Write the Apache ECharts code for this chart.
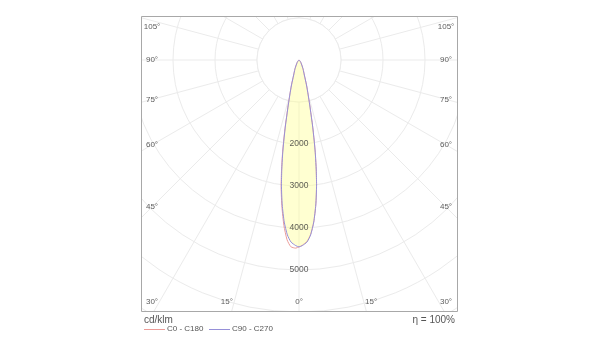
<!DOCTYPE html>
<html>
<head>
<meta charset="utf-8">
<script src="https://cdn.jsdelivr.net/npm/echarts@6/dist/echarts.min.js"></script>
<style>
html, body { margin: 0; padding: 0; background: #fff; }
#chart { width: 600px; height: 360px; }
</style>
</head>
<body>
<div id="chart"></div>
<script>
// gamma angles (deg from nadir) and intensities in cd/klm
var gamma = [0, 1, 2.5, 3.8, 5.2, 6.6, 8, 8.9, 9.8, 10.4, 11, 11.7, 12.4, 13.4, 14.7, 16.7, 19.5, 24, 29, 35, 40, 50, 60, 70, 80, 90];
var c90 = [4450, 4420, 4340, 4175, 3875, 3475, 3005, 2650, 2295, 2057, 1820, 1580, 1340, 1100, 860, 620, 380, 240, 136, 80, 50, 20, 8, 3, 1, 0];
var c270 = c90;
var c0 = [4450, 4410, 4320, 4160, 3870, 3475, 3005, 2650, 2295, 2057, 1820, 1580, 1340, 1100, 860, 620, 380, 240, 136, 80, 50, 20, 8, 3, 1, 0];
var c180 = [4450, 4480, 4450, 4290, 3960, 3530, 3060, 2700, 2340, 2100, 1860, 1610, 1360, 1115, 870, 625, 382, 240, 136, 80, 50, 20, 8, 3, 1, 0];
var radiusLabels = [2000, 3000, 4000, 5000];
var angleLabels = [0, 15, 30, 45, 60, 75, 90, 105];
var seriesNames = ['C0 - C180', 'C90 - C270'];
var seriesColors = ['#ec9c98', '#9690d8'];

var FONT = 'Liberation Sans, Arial, sans-serif';
var center = [299, 60];
var outer = 294;
var rMax = 7000;
var box = { x: 141, y: 16, w: 316, h: 295 };

// left half = first plane (angle g), right half = second plane (angle 360 - g)
function lobe(left, right) {
    var out = [];
    for (var i = gamma.length - 1; i >= 0; i--) {
        out.push([left[i], gamma[i]]);
    }
    for (var j = 0; j < gamma.length; j++) {
        out.push([right[j], 360 - gamma[j]]);
    }
    return out;
}

var graphics = [];
// white centre disc hides the spokes inside the first ring
graphics.push({
    type: 'circle', z: 1, silent: true,
    shape: { cx: center[0], cy: center[1], r: 1000 * outer / rMax },
    style: { fill: '#fff', stroke: '#ebebeb', lineWidth: 1 }
});
// masks outside the frame
graphics.push({ type: 'rect', z: 10, shape: { x: 0, y: 0, width: box.x, height: 360 }, style: { fill: '#fff' } });
graphics.push({ type: 'rect', z: 10, shape: { x: box.x + box.w, y: 0, width: 600, height: 360 }, style: { fill: '#fff' } });
graphics.push({ type: 'rect', z: 10, shape: { x: 0, y: 0, width: 600, height: box.y }, style: { fill: '#fff' } });
graphics.push({ type: 'rect', z: 10, shape: { x: 0, y: box.y + box.h, width: 600, height: 100 }, style: { fill: '#fff' } });
graphics.push({
    type: 'rect', z: 11,
    shape: { x: box.x + 0.5, y: box.y + 0.5, width: box.w, height: box.h },
    style: { fill: 'none', stroke: '#a8a8a8', lineWidth: 1 }
});

// angle labels along the frame
var inX = 147, inB = 269, yTop = 27, yBot = 302;
angleLabels.forEach(function (a) {
    var rad = a * Math.PI / 180;
    var s = Math.sin(rad), c = Math.cos(rad);
    var tSide = s > 1e-6 ? inX / s : Infinity;
    var tBot = c > 1e-6 ? inB / c : Infinity;
    var dx, y;
    if (tSide <= tBot) {
        dx = inX;
        y = Math.max(yTop, Math.min(yBot, center[1] + tSide * c));
    } else {
        dx = Math.min(inX, tBot * s);
        y = yBot;
    }
    var sides = a === 0 ? [0] : [-1, 1];
    sides.forEach(function (sg) {
        graphics.push({
            type: 'text', z: 12, silent: true,
            x: center[0] + sg * dx, y: y,
            style: {
                text: a + '°', fill: '#5c5c5c', fontSize: 8, fontFamily: FONT,
                align: 'center', verticalAlign: 'middle'
            }
        });
    });
});
graphics.push({
    type: 'text', z: 12, x: 144, y: 320,
    style: { text: 'cd/klm', fill: '#555', fontSize: 10, fontFamily: FONT, align: 'left', verticalAlign: 'middle' }
});
graphics.push({
    type: 'text', z: 12, x: 455, y: 320,
    style: { text: 'η = 100%', fill: '#555', fontSize: 10, fontFamily: FONT, align: 'right', verticalAlign: 'middle' }
});
// legend
var legendX = [144, 209];
seriesNames.forEach(function (name, i) {
    graphics.push({
        type: 'rect', z: 12,
        shape: { x: legendX[i], y: 329, width: 21, height: 1 },
        style: { fill: seriesColors[i] }
    });
    graphics.push({
        type: 'text', z: 12, x: legendX[i] + 23, y: 329,
        style: { text: name, fill: '#555', fontSize: 8, fontFamily: FONT, align: 'left', verticalAlign: 'middle' }
    });
});

var chart = echarts.init(document.getElementById('chart'), null, { renderer: 'canvas' });
chart.setOption({
    animation: false,
    backgroundColor: '#fff',
    textStyle: { fontFamily: FONT },
    polar: { center: center, radius: outer },
    angleAxis: {
        type: 'value', min: 0, max: 360, interval: 15,
        startAngle: -90, clockwise: true, z: 0,
        axisLine: { show: false }, axisTick: { show: false }, axisLabel: { show: false },
        splitLine: { show: true, lineStyle: { color: '#ebebeb', width: 1 } }
    },
    radiusAxis: {
        type: 'value', min: 0, max: rMax, interval: 1000, z: 0,
        axisLine: { show: false }, axisTick: { show: false }, axisLabel: { show: false },
        splitLine: { show: true, lineStyle: { color: '#ebebeb', width: 1 } }
    },
    graphic: graphics,
    series: [
        {
            name: seriesNames[0], type: 'line', coordinateSystem: 'polar', z: 2,
            data: lobe(c180, c0), showSymbol: false, smooth: 0.2,
            itemStyle: { color: seriesColors[0] },
            lineStyle: { color: seriesColors[0], width: 1 }
        },
        {
            name: seriesNames[1], type: 'line', coordinateSystem: 'polar', z: 3,
            data: lobe(c270, c90), showSymbol: false, smooth: 0.2,
            itemStyle: { color: seriesColors[1] },
            lineStyle: { color: seriesColors[1], width: 1 },
            areaStyle: { color: 'rgba(255,255,150,0.62)' }
        },
        {
            type: 'scatter', coordinateSystem: 'polar', z: 4, silent: true,
            symbolSize: 1, itemStyle: { color: 'rgba(0,0,0,0)' },
            data: radiusLabels.map(function (v) { return [v, 0]; }),
            label: {
                show: true, position: 'inside', color: '#333', fontSize: 8.5,
                formatter: function (p) { return p.value[0]; }
            }
        }
    ]
});
</script>
</body>
</html>
